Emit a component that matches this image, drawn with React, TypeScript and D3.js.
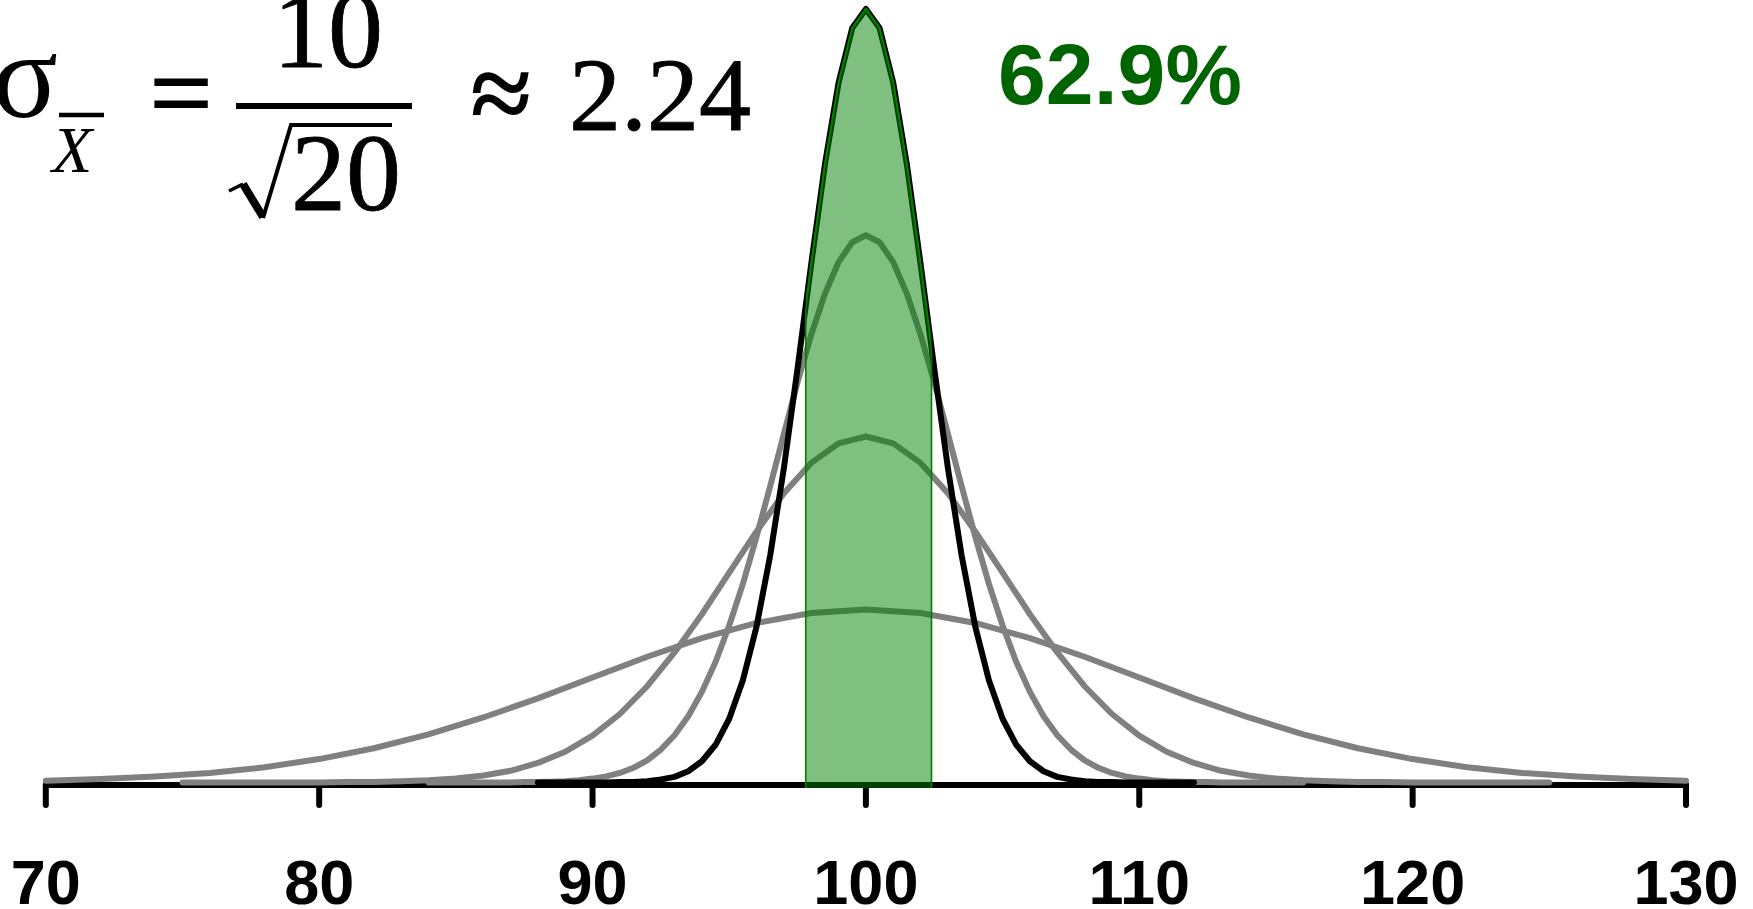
import React from "react";
import * as d3 from "d3";

// ---- data ----
const xTicks = [70, 80, 90, 100, 110, 120, 130];

// sampling grids of the four curves (sample sizes 1, 4, 10, 20)
const n1X = d3.range(70, 131, 2);
const n4X = d3.range(75, 126, 1);
const n10X = d3.range(84, 116.01, 0.5);
const n20X = d3.range(88, 112.01, 0.5);

// densities
const n1Density = [
  0.0004, 0.0008, 0.0014, 0.0022, 0.0035, 0.0054, 0.0079, 0.0111, 0.015, 0.0194, 0.0242,
  0.029, 0.0333, 0.0368, 0.0391, 0.0399, 0.0391, 0.0368, 0.0333, 0.029, 0.0242, 0.0194,
  0.015, 0.0111, 0.0079, 0.0054, 0.0035, 0.0022, 0.0014, 0.0008, 0.0004,
];
const n4Density = [
  0, 0, 0, 0, 0, 0, 0.0001, 0.0001, 0.0003, 0.0005, 0.0009, 0.0016, 0.0027, 0.0045, 0.0071,
  0.0108, 0.0158, 0.0222, 0.03, 0.0388, 0.0484, 0.0579, 0.0667, 0.0737, 0.0782, 0.0798,
  0.0782, 0.0737, 0.0667, 0.0579, 0.0484, 0.0388, 0.03, 0.0222, 0.0158, 0.0108, 0.0071,
  0.0045, 0.0027, 0.0016, 0.0009, 0.0005, 0.0003, 0.0001, 0.0001, 0, 0, 0, 0, 0, 0,
];
const n10Density = [
  0, 0, 0, 0, 0, 0, 0, 0.0001, 0.0001, 0.0002, 0.0003, 0.0005, 0.0009, 0.0014, 0.0022, 0.0034,
  0.0051, 0.0076, 0.0109, 0.0153, 0.0209, 0.0278, 0.0362, 0.0458, 0.0567, 0.0684, 0.0804,
  0.0923, 0.1033, 0.1127, 0.12, 0.1246, 0.1262, 0.1246, 0.12, 0.1127, 0.1033, 0.0923, 0.0804,
  0.0684, 0.0567, 0.0458, 0.0362, 0.0278, 0.0209, 0.0153, 0.0109, 0.0076, 0.0051, 0.0034,
  0.0022, 0.0014, 0.0009, 0.0005, 0.0003, 0.0002, 0.0001, 0.0001, 0, 0, 0, 0, 0, 0, 0,
];
const n20Density = [
  0, 0, 0, 0, 0, 0, 0.0001, 0.0001, 0.0003, 0.0007, 0.0013, 0.0026, 0.0049, 0.0087, 0.0147,
  0.0236, 0.036, 0.0524, 0.0725, 0.0955, 0.1196, 0.1425, 0.1614, 0.174, 0.1784, 0.174, 0.1614,
  0.1425, 0.1196, 0.0955, 0.0725, 0.0524, 0.036, 0.0236, 0.0147, 0.0087, 0.0049, 0.0026,
  0.0013, 0.0007, 0.0003, 0.0001, 0.0001, 0, 0, 0, 0, 0, 0,
];

// shaded interval and its label
const shadeRange = [97.8, 102.4];
const shadeLabel = "62.9%";

const SERIF = "'Liberation Serif', 'Times New Roman', Times, serif";
const SANS = "'Liberation Sans', Arial, Helvetica, sans-serif";

export default function App() {
  const W = 1753;
  const H = 909;
  const x = d3.scaleLinear().domain([70, 130]).range([45.8, 1686]);
  const y = d3.scaleLinear().domain([0, 0.18]).range([782.5, 2.0]);
  const axisY = 785;

  const line = d3
    .line<[number, number]>()
    .x((d) => x(d[0]))
    .y((d) => y(d[1]));

  const zip = (xs: number[], ys: number[]) => xs.map((v, i) => [v, ys[i]] as [number, number]);

  const curves = [
    { pts: zip(n1X, n1Density), color: "#808080" },
    { pts: zip(n4X, n4Density), color: "#808080" },
    { pts: zip(n10X, n10Density), color: "#808080" },
    { pts: zip(n20X, n20Density), color: "#000000" },
  ];
  const black = curves[3].pts;

  const area = d3
    .area<[number, number]>()
    .x((d) => x(d[0]))
    .y0(() => axisY + 3)
    .y1((d) => y(d[1]));

  const areaPath = area(black) || "";
  const x0 = x(shadeRange[0]);
  const x1 = x(shadeRange[1]);

  return (
    <svg
      width={W}
      height={H}
      style={{ position: "absolute", left: 0, top: 0, background: "#fff" }}
      xmlns="http://www.w3.org/2000/svg"
    >
      <defs>
        <clipPath id="shadeRect">
          <rect x={x0} y={0} width={x1 - x0} height={H} />
        </clipPath>
        <clipPath id="shadeArea">
          <path d={areaPath} />
        </clipPath>
      </defs>
      <rect x={0} y={0} width={W} height={H} fill="#fff" />

      {/* axis */}
      <line
        x1={x(70)}
        x2={x(130)}
        y1={axisY}
        y2={axisY}
        stroke="#000"
        strokeWidth={6}
        strokeLinecap="round"
      />
      {xTicks.map((t) => (
        <line
          key={t}
          x1={x(t)}
          x2={x(t)}
          y1={axisY}
          y2={805}
          stroke="#000"
          strokeWidth={6}
          strokeLinecap="round"
        />
      ))}
      {xTicks.map((t) => (
        <text
          key={"l" + t}
          x={x(t)}
          y={904}
          textAnchor="middle"
          fontFamily={SANS}
          fontWeight="bold"
          fontSize={63}
          fill="#000"
        >
          {t}
        </text>
      ))}

      {/* curves */}
      {curves.map((c, i) => (
        <path
          key={i}
          d={line(c.pts) || ""}
          fill="none"
          stroke={c.color}
          strokeWidth={6}
          strokeLinejoin="round"
          strokeLinecap="round"
        />
      ))}

      {/* shaded interval */}
      <g clipPath="url(#shadeRect)">
        <path d={areaPath} fill="rgb(0,128,0)" fillOpacity={0.5} stroke="none" />
        <path d={line(black) || ""} fill="none" stroke="rgb(0,128,0)" strokeWidth={2.2} />
      </g>
      <g clipPath="url(#shadeArea)">
        <rect
          x={x0}
          y={0}
          width={x1 - x0}
          height={H - 50}
          fill="none"
          stroke="rgb(0,128,0)"
          strokeWidth={1.6}
        />
      </g>

      {/* percentage */}
      <text x={998} y={104} fontFamily={SANS} fontWeight="bold" fontSize={86} fill="#006400">
        {shadeLabel}
      </text>

      {/* formula: sigma_xbar = 10 / sqrt(20) ≈ 2.24 */}
      <g fill="#000" fontFamily={SERIF}>
        <text x={58} y={117} fontSize={122} textAnchor="end">
          σ
        </text>
        <text x={52} y={172} fontSize={66} fontStyle="italic">
          X
        </text>
        <line x1={59} x2={104} y1={115} y2={115} stroke="#000" strokeWidth={4.5} />
        <text x={150} y={130} fontSize={110} stroke="#000" strokeWidth={2.2}>
          =
        </text>
        <text x={273} y={67} fontSize={110} stroke="#000" strokeWidth={0.8}>
          10
        </text>
        <line x1={236} x2={412} y1={106} y2={106} stroke="#000" strokeWidth={6} />
        <path d="M229 191 L243 184" stroke="#000" strokeWidth={3.5} fill="none" />
        <path d="M243 184 L263 217" stroke="#000" strokeWidth={8} fill="none" />
        <path d="M263 218 L291 125 L392 125" stroke="#000" strokeWidth={4} fill="none" />
        <text x={291} y={210} fontSize={110} stroke="#000" strokeWidth={0.8}>
          20
        </text>
        <text x={471} y={130} fontSize={110} stroke="#000" strokeWidth={2.2}>
          ≈
        </text>
        <text x={569} y={130} fontSize={104} stroke="#000" strokeWidth={0.8}>
          2.24
        </text>
      </g>
    </svg>
  );
}
